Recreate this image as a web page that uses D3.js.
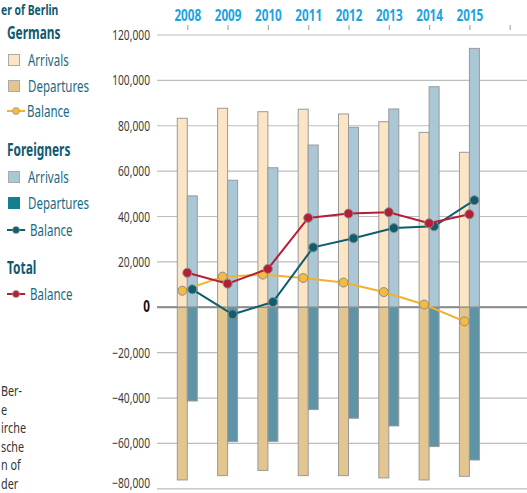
<!DOCTYPE html>
<html>
<head>
<meta charset="utf-8">
<script src="https://cdn.jsdelivr.net/npm/d3@7"></script>
<style>
  body { margin: 0; background: #fff; }
  svg { display: block; font-family: "Noto Sans", "Open Sans", sans-serif; }
</style>
</head>
<body>
<svg id="chart" width="527" height="493"></svg>
<script>
// data
var years = [2008, 2009, 2010, 2011, 2012, 2013, 2014, 2015];
var gerArrivals   = [83300, 87700, 86200, 87300, 85200, 81800, 77100, 68300];
var gerDepartures = [-76100, -74200, -71900, -74200, -74200, -75200, -76100, -74500];
var forArrivals   = [49100, 56000, 61500, 71500, 79300, 87400, 97200, 114100];
var forDepartures = [-41300, -59200, -59100, -45100, -48900, -52300, -61400, -67300];
var gerBalance = [7300, 13500, 14400, 12900, 10900, 6700, 1200, -6200];
var forBalance = [7900, -3100, 2300, 26400, 30400, 34900, 35700, 47200];
var totBalance = [15200, 10400, 16900, 39400, 41300, 41900, 37000, 41000];
var yTicks = [-80000, -60000, -40000, -20000, 0, 20000, 40000, 60000, 80000, 100000, 120000];

var svg = d3.select("#chart");

var x = d3.scaleLinear().domain([2008, 2016]).range([187.3, 509.7]);
var y = d3.scaleLinear().domain([-80000, 120000]).range([488.8, 35]);
var fmt = d3.format(",");

// no condensed font available, so squeeze the glyphs
function squeeze(sel, k) {
    sel.each(function () {
        var w = this.getComputedTextLength();
        d3.select(this).attr("textLength", w * k).attr("lengthAdjust", "spacingAndGlyphs");
    });
}

// gridlines
svg.append("g").selectAll("line")
    .data(yTicks)
    .enter().append("line")
    .attr("x1", 157).attr("x2", 527)
    .attr("y1", function (d) { return y(d); })
    .attr("y2", function (d) { return y(d); })
    .style("stroke", function (d) { return d === 0 ? "#8a8a8a" : "#bdbdbd"; })
    .style("stroke-width", function (d) { return d === 0 ? 2 : 1.2; });

// y labels
var ylab = svg.append("g").selectAll("text")
    .data(yTicks)
    .enter().append("text")
    .attr("x", 150)
    .attr("y", function (d) { return d === -80000 ? 488 : y(d) + 5; })
    .attr("text-anchor", "end")
    .style("font-size", function (d) { return d === 0 ? "16px" : "14px"; })
    .style("font-weight", function (d) { return d === 0 ? "bold" : "normal"; })
    .style("fill", function (d) { return d === 0 ? "#111" : "#3c3c3c"; })
    .text(function (d) { return d === 0 ? "0" : fmt(d); });
squeeze(ylab, 0.73);

// top axis with year labels
var xAxis = d3.axisTop(x)
    .tickValues(years.concat([2016]))
    .tickSize(5)
    .tickPadding(8)
    .tickFormat(function (d) { return d === 2016 ? "" : d; });

var gx = svg.append("g")
    .attr("transform", "translate(0,30)")
    .call(xAxis);
gx.select(".domain").remove();
gx.selectAll(".tick line").style("stroke", "#aaa").style("stroke-width", 1.2);
var yl = gx.selectAll(".tick text")
    .style("font-family", "\"Noto Sans\", sans-serif")
    .style("font-size", "16px")
    .style("font-weight", "bold")
    .style("fill", "#1ba3e0")
    .attr("dy", "0.25em");
squeeze(yl, 0.73);

// bars
var bw = 10;
function bars(vals, off, fill) {
    svg.append("g").selectAll("rect")
        .data(vals)
        .enter().append("rect")
        .attr("x", function (d, i) { return x(years[i]) + off; })
        .attr("width", bw)
        .attr("y", function (d) { return d > 0 ? y(d) : y(0); })
        .attr("height", function (d) { return Math.abs(y(d) - y(0)); })
        .style("fill", fill)
        .style("stroke", "#9a9a9a")
        .style("stroke-width", 1);
}
bars(gerArrivals, -bw, "#fbe5c4");
bars(forArrivals, 0, "#a9c7d4");
bars(gerDepartures, -bw, "#e3c68f");
bars(forDepartures, 0, "#5f93a6");

// zero line again, over the bars
svg.append("line")
    .attr("x1", 157).attr("x2", 527)
    .attr("y1", y(0)).attr("y2", y(0))
    .style("stroke", "#8a8a8a").style("stroke-width", 1.5).style("opacity", 0.6);

// balance lines
function balance(vals, off, color, dot) {
    var line = d3.line()
        .x(function (d, i) { return x(years[i]) + off; })
        .y(function (d) { return y(d); });
    svg.append("path")
        .datum(vals)
        .attr("d", line)
        .style("fill", "none")
        .style("stroke", color)
        .style("stroke-width", 2);
    svg.append("g").selectAll("circle")
        .data(vals)
        .enter().append("circle")
        .attr("cx", function (d, i) { return x(years[i]) + off; })
        .attr("cy", function (d) { return y(d); })
        .attr("r", 4.5)
        .style("fill", dot)
        .style("stroke", "#8c8c8c")
        .style("stroke-width", 1);
}
balance(gerBalance, -5, "#f2b12e", "#f5bb3c");
balance(forBalance, 5, "#0e5e70", "#0e5e70");
balance(totBalance, 0, "#b41f36", "#b41f36");

// legend
var head = "#0f5a70", itemc = "#1a6a84";
var title = svg.append("text").attr("x", 1).attr("y", 15)
    .style("font-size", "14px").style("font-weight", "bold").style("fill", head)
    .text("er of Berlin");
squeeze(title, 0.74);

var legend = [
    {t: "h", y: 39, label: "Germans"},
    {t: "s", y: 60, label: "Arrivals", fill: "#fbe5c4", stroke: "#aaa"},
    {t: "s", y: 86, label: "Departures", fill: "#e3c68f", stroke: "#aaa"},
    {t: "l", y: 111, label: "Balance", fill: "#f5bb3c", line: "#f2b12e", tx: 27},
    {t: "h", y: 156, label: "Foreigners"},
    {t: "s", y: 177, label: "Arrivals", fill: "#a9c7d4", stroke: "#aaa"},
    {t: "s", y: 203, label: "Departures", fill: "#13808f", stroke: "#13808f"},
    {t: "l", y: 230, label: "Balance", fill: "#0e5e70", line: "#0e5e70", tx: 30},
    {t: "h", y: 274, label: "Total"},
    {t: "l", y: 294, label: "Balance", fill: "#b41f36", line: "#b41f36", tx: 30}
];

legend.forEach(function (d) {
    var t;
    if (d.t === "h") {
        t = svg.append("text").attr("x", 7).attr("y", d.y)
            .style("font-size", "17px").style("font-weight", "bold").style("fill", head)
            .text(d.label);
        squeeze(t, 0.7);
        return;
    }
    if (d.t === "s") {
        svg.append("rect").attr("x", 8.5).attr("y", d.y - 5.5)
            .attr("width", 11).attr("height", 11)
            .style("fill", d.fill).style("stroke", d.stroke);
        t = svg.append("text").attr("x", 28).attr("y", d.y + 6)
            .style("font-size", "16px").style("fill", itemc).text(d.label);
    } else {
        svg.append("line").attr("x1", 7).attr("x2", 25)
            .attr("y1", d.y).attr("y2", d.y)
            .style("stroke", d.line).style("stroke-width", 2);
        svg.append("circle").attr("cx", 16).attr("cy", d.y).attr("r", 3.5)
            .style("fill", d.fill).style("stroke", "#999").style("stroke-width", 0.8);
        t = svg.append("text").attr("x", d.tx).attr("y", d.y + 6)
            .style("font-size", "16px").style("fill", itemc).text(d.label);
    }
    squeeze(t, 0.72);
});

// note text clipped at the left edge
var noteLines = ["Ber-", "e", "irche", "sche", "n of", "der"];
var notes = svg.append("g").selectAll("text")
    .data(noteLines)
    .enter().append("text")
    .attr("x", 1)
    .attr("y", function (d, i) { return 396 + i * 18.6; })
    .style("font-size", "15px")
    .style("fill", "#333")
    .text(function (d) { return d; });
squeeze(notes, 0.72);
</script>
</body>
</html>
